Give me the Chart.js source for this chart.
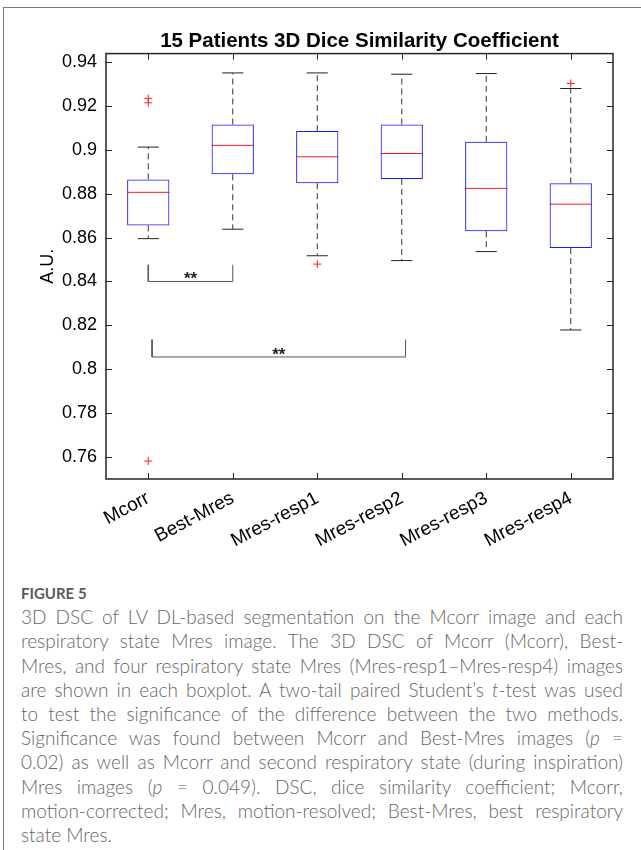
<!DOCTYPE html>
<html lang="en">
<head>
<meta charset="UTF-8">
<meta name="viewport" content="width=device-width, initial-scale=1.0">
<title>15 Patients 3D Dice Similarity Coefficient</title>
<script src="https://cdn.jsdelivr.net/npm/chart.js"></script>
<style>
  body { margin: 0; background: #fff; width: 641px; height: 850px; overflow: hidden; position: relative; }
  #frame { position: absolute; left: 3px; top: 7px; width: 700px; height: 900px; border-left: 1px solid #7a7a7a; border-top: 1px solid #7a7a7a; }
  #chartBox { position: absolute; left: 0; top: 0; width: 641px; height: 560px; }
  #caption { position: absolute; left: 21px; top: 581px; width: 602px; font-family: Lato, "Noto Sans", sans-serif; font-weight: 300; color: #666; font-size: 19px; line-height: 24.2px; }
  #caption .fig { font-weight: 700; font-size: 15px; color: #5a5a5a; }
  #caption .ln { text-align: justify; text-align-last: justify; }
  #caption .last { text-align: left; }
</style>
</head>
<body>
<div id="frame"></div>
<div id="chartBox"><canvas id="dscChart" width="641" height="560"></canvas></div>
<div id="caption">
  <div class="fig">FIGURE 5</div>
  <div class="ln">3D DSC of LV DL-based segmentation on the Mcorr image and each</div>
  <div class="ln">respiratory state Mres image. The 3D DSC of Mcorr (Mcorr), Best-</div>
  <div class="ln">Mres, and four respiratory state Mres (Mres-resp1–Mres-resp4) images</div>
  <div class="ln">are shown in each boxplot. A two-tail paired Student’s <i>t</i>-test was used</div>
  <div class="ln">to test the significance of the difference between the two methods.</div>
  <div class="ln">Significance was found between Mcorr and Best-Mres images (<i>p</i> =</div>
  <div class="ln">0.02) as well as Mcorr and second respiratory state (during inspiration)</div>
  <div class="ln">Mres images (<i>p</i> = 0.049). DSC, dice similarity coefficient; Mcorr,</div>
  <div class="ln">motion-corrected; Mres, motion-resolved; Best-Mres, best respiratory</div>
  <div class="last">state Mres.</div>
</div>
<script>
// boxplot summary values
const categories = ['Mcorr', 'Best-Mres', 'Mres-resp1', 'Mres-resp2', 'Mres-resp3', 'Mres-resp4'];
const lowerWhisker = [0.8595, 0.8638, 0.8517, 0.8495, 0.8536, 0.8179];
const q1 = [0.8655, 0.8888, 0.8847, 0.8867, 0.8629, 0.8552];
const median = [0.8806, 0.9020, 0.8968, 0.8983, 0.8824, 0.8752];
const q3 = [0.8865, 0.9115, 0.9085, 0.9115, 0.9036, 0.8847];
const upperWhisker = [0.9012, 0.9350, 0.9350, 0.9344, 0.9347, 0.9279];
const outliers = [[0.9234, 0.9214, 0.7582], [], [0.8479], [], [], [0.9302]];
const yTicks = [0.94, 0.92, 0.9, 0.88, 0.86, 0.84, 0.82, 0.8, 0.78, 0.76];

// significance brackets (** = p < 0.05)
const sigFrom = [1, 1.045];
const sigTo = [2, 4.045];
const sigY = [0.84, 0.8056];
const sigEnd = [0.8476, 0.8135];
const sigText = ['**', '**'];

const fontFam = '"Liberation Sans", Arial, Helvetica, sans-serif';
Chart.defaults.font.family = fontFam;
Chart.defaults.color = '#262626';

// build segment lists, null y breaks the line
const medianPts = [], whiskerPts = [], capPts = [], outlierPts = [], bracketPts = [];
categories.forEach((c, i) => {
  const x = i + 1;
  medianPts.push({x: x - 0.25, y: median[i]}, {x: x + 0.25, y: median[i]}, {x: x + 0.25, y: null});
  whiskerPts.push({x: x, y: q1[i]}, {x: x, y: lowerWhisker[i]}, {x: x, y: null},
                  {x: x, y: q3[i]}, {x: x, y: upperWhisker[i]}, {x: x, y: null});
  capPts.push({x: x - 0.125, y: lowerWhisker[i]}, {x: x + 0.125, y: lowerWhisker[i]}, {x: x + 0.125, y: null},
              {x: x - 0.125, y: upperWhisker[i]}, {x: x + 0.125, y: upperWhisker[i]}, {x: x + 0.125, y: null});
  outliers[i].forEach(v => outlierPts.push({x: x, y: v}));
});
sigY.forEach((v, i) => {
  bracketPts.push({x: sigFrom[i], y: sigEnd[i]}, {x: sigFrom[i], y: v}, {x: sigTo[i], y: v},
                  {x: sigTo[i], y: sigEnd[i]}, {x: sigTo[i], y: null});
});

// axes box with inward ticks + star labels
const axesFrame = {
  id: 'axesFrame',
  afterDatasetsDraw(chart) {
    const {ctx, chartArea: a, scales: {x, y}} = chart;
    ctx.save();
    ctx.strokeStyle = '#262626';
    ctx.lineWidth = 1;
    ctx.beginPath();
    y.ticks.forEach(t => {
      const py = Math.round(y.getPixelForValue(t.value)) + 0.5;
      ctx.moveTo(a.left, py); ctx.lineTo(a.left + 6, py);
      ctx.moveTo(a.right, py); ctx.lineTo(a.right - 6, py);
    });
    x.ticks.forEach(t => {
      const px = Math.round(x.getPixelForValue(t.value)) + 0.5;
      ctx.moveTo(px, a.bottom); ctx.lineTo(px, a.bottom - 6);
      ctx.moveTo(px, a.top); ctx.lineTo(px, a.top + 6);
    });
    ctx.stroke();
    ctx.lineWidth = 1.5;
    ctx.strokeRect(a.left, a.top, a.right - a.left, a.bottom - a.top);

    ctx.fillStyle = '#222';
    ctx.font = 'bold 17px ' + fontFam;
    ctx.textAlign = 'center';
    ctx.textBaseline = 'alphabetic';
    sigText.forEach((s, i) => {
      ctx.fillText(s, x.getPixelForValue((sigFrom[i] + sigTo[i]) / 2), y.getPixelForValue(sigY[i]) + 3);
    });
    ctx.restore();
  }
};

const segLine = (data, color, extra) => Object.assign({
  type: 'line', data: data, borderColor: color, borderWidth: 1,
  pointRadius: 0, spanGaps: false, fill: false, tension: 0
}, extra || {});

new Chart(document.getElementById('dscChart'), {
  type: 'bar',
  data: {
    datasets: [
      {
        type: 'bar',
        data: categories.map((c, i) => ({x: i + 1, y: [q1[i], q3[i]]})),
        backgroundColor: 'rgba(0,0,0,0)',
        borderColor: '#1a1aff',
        borderWidth: 1,
        borderSkipped: false,
        barPercentage: 0.5,
        categoryPercentage: 1
      },
      segLine(whiskerPts, '#333', {borderDash: [6, 4]}),
      segLine(capPts, '#222'),
      segLine(medianPts, '#ff1a1a'),
      segLine(bracketPts, '#555'),
      segLine(outlierPts, '#ff2020', {showLine: false, pointRadius: 4, pointStyle: 'cross', pointBorderWidth: 1})
    ]
  },
  options: {
    responsive: false,
    animation: false,
    layout: {padding: {left: 0, right: 28, top: 0, bottom: 0}},
    plugins: {
      legend: {display: false},
      tooltip: {enabled: false},
      title: {
        display: true,
        text: '15 Patients 3D Dice Similarity Coefficient',
        fullSize: false,
        color: '#000',
        font: {size: 20.5, weight: 'bold'},
        padding: {top: 29, bottom: 0}
      }
    },
    scales: {
      x: {
        type: 'linear',
        min: 0.5,
        max: 6.5,
        offset: false,
        grid: {display: false, drawTicks: false, offset: false},
        border: {display: false},
        afterBuildTicks: s => { s.ticks = categories.map((c, i) => ({value: i + 1})); },
        afterFit: s => { s.height = 81; },
        ticks: {
          autoSkip: false,
          minRotation: 28,
          maxRotation: 28,
          padding: 8,
          color: '#000',
          font: {size: 19},
          callback: v => categories[v - 1]
        }
      },
      y: {
        type: 'linear',
        min: 0.75,
        max: 0.9438,
        grid: {display: false, drawTicks: false},
        border: {display: false},
        afterBuildTicks: s => { s.ticks = yTicks.map(v => ({value: v})); },
        afterFit: s => { s.width = 106; },
        ticks: {
          padding: 9,
          color: '#000',
          font: {size: 18},
          callback: v => String(v)
        },
        title: {
          display: true,
          text: 'A.U.',
          color: '#000',
          font: {size: 18},
          padding: {top: 37, bottom: 0}
        }
      }
    }
  },
  plugins: [axesFrame]
});
</script>
</body>
</html>
